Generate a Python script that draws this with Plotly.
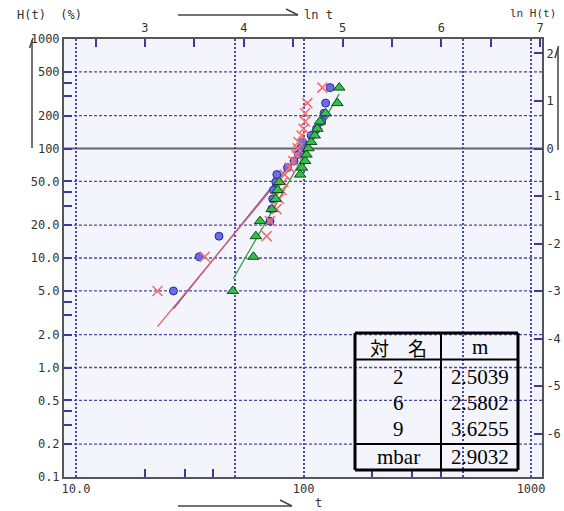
import math
import plotly.graph_objects as go

# ---------------- data ----------------
# cumulative hazard H(t) in % for ranks 1..20 (complete data, n=20)
H_PCT = [5.000, 10.263, 15.819, 21.701, 27.951, 34.618, 41.761, 49.453, 57.787, 66.878,
         76.878, 87.989, 100.489, 114.775, 131.442, 151.442, 176.442, 209.775, 259.775, 359.775]

T_RED = [22.8, 36.8, 68.8, 71.1, 76.0, 78.0, 80.0, 81.5, 82.6, 87.0,
         90.0, 93.0, 94.0, 95.0, 98.0, 100.0, 101.6, 101.6, 103.9, 121.0]
T_BLUE = [26.8, 34.8, 42.5, 71.2, 72.5, 73.2, 73.8, 75.5, 76.3, 85.0,
          90.8, 95.0, 97.0, 99.0, 108.0, 114.0, 120.0, 123.0, 125.0, 130.8]
T_GREEN = [48.9, 60.2, 61.7, 64.4, 72.4, 75.5, 76.9, 78.2, 96.6, 98.4,
           101.6, 103.0, 105.0, 108.0, 112.0, 115.0, 118.0, 125.0, 140.8, 143.5]

# fitted lines  H = 100 * (t/eta)^m
SAMPLE_NAMES = ["2", "6", "9"]
M_VALUES = [2.5039, 2.5802, 3.6255]
M_BAR = 2.9032
ETA_VALUES = [101.7, 99.0, 104.5]
LINE_T_START = [22.8, 26.8, 49.1]
LINE_T_END = [121.0, 130.8, 143.5]

Y_TICKS = [0.1, 0.2, 0.5, 1, 2, 5, 10, 20, 50, 100, 200, 500, 1000]
Y_TICKTEXT = ["0.1", "0.2", "0.5", "1.0", "2.0", "5.0", "10.0", "20.0", "50.0", "100", "200", "500", "1000"]
Y_GRID = [0.2, 0.5, 1, 2, 5, 10, 20, 50, 200, 500]
Y_REF = 100
Y_MINOR = [0.3, 0.4, 3, 4, 30, 40, 300, 400]
X_GRID = [10, 50, 100, 500, 1000]
X_TICKTEXT = ["10.0", "", "100", "", "1000"]
X_MINOR = [20, 30, 40, 200, 300, 400]
LNT_TICKS = [3, 4, 5, 6, 7]
LNT_MINOR = [2.5, 3.5, 4.5, 5.5, 6.5]
LNH_TICKS = [-6, -5, -4, -3, -2, -1, 0, 1, 2]

# ---------------- layout geometry ----------------
W, H = 564, 511
ML, MR, MT, MB = 64, 22, 39, 34
PW, PH = W - ML - MR, H - MT - MB
XLOG = [0.947, 3.048]
YLOG = [-1, 3]

def px(x):
    return (x - ML) / PW

def py(y):
    return (H - MB - y) / PH

NAVY = "#3a3a9a"
GRID = "#4848a8"
AXC = "#555555"
TICKFONT = dict(family="DejaVu Sans Mono", size=12, color="#333333")

fig = go.Figure()

# fitted lines
line_colors = ["#e06060", "#4a4ab0", "#3aa040"]
line_widths = [1.3, 1.1, 1.3]
for k in [1, 0, 2]:
    n = 40
    ts = [LINE_T_START[k] * (LINE_T_END[k] / LINE_T_START[k]) ** (i / (n - 1)) for i in range(n)]
    hs = [100 * (t / ETA_VALUES[k]) ** M_VALUES[k] for t in ts]
    fig.add_trace(go.Scatter(x=ts, y=hs, mode="lines",
                             line=dict(color=line_colors[k], width=line_widths[k]),
                             showlegend=False, hoverinfo="skip"))

# markers
fig.add_trace(go.Scatter(x=T_BLUE, y=H_PCT, mode="markers", showlegend=False,
                         marker=dict(symbol="circle", size=8, color="#6c6cea",
                                     line=dict(color="#2a2aa0", width=1))))
fig.add_trace(go.Scatter(x=T_RED, y=H_PCT, mode="markers", showlegend=False,
                         marker=dict(symbol="x-thin", size=10,
                                     line=dict(color="#f07070", width=1.6))))
fig.add_trace(go.Scatter(x=T_GREEN, y=H_PCT, mode="markers", showlegend=False,
                         marker=dict(symbol="triangle-up", size=10, color="#2fc050",
                                     line=dict(color="#124a12", width=1))))

# dummy trace to activate secondary axes
fig.add_trace(go.Scatter(x=[5], y=[0], xaxis="x2", yaxis="y2", mode="markers",
                         marker=dict(opacity=0), showlegend=False, hoverinfo="skip"))

fig.update_layout(
    width=W, height=H,
    margin=dict(l=ML, r=MR, t=MT, b=MB, pad=0, autoexpand=False),
    paper_bgcolor="white",
    plot_bgcolor="#f4f4fc",
    showlegend=False,
    xaxis=dict(type="log", range=XLOG, tickmode="array", tickvals=X_GRID, ticktext=X_TICKTEXT,
               ticks="", showgrid=True, gridcolor=GRID, griddash="2px,2px", gridwidth=1.5,
               showline=True, linecolor=AXC, linewidth=2, zeroline=False, automargin=False,
               tickfont=TICKFONT,
               minor=dict(tickmode="array", tickvals=X_MINOR, ticks="inside", ticklen=8,
                          tickcolor=NAVY, tickwidth=2, showgrid=False)),
    yaxis=dict(type="log", range=YLOG, tickmode="array", tickvals=Y_TICKS, ticktext=Y_TICKTEXT,
               ticks="inside", ticklen=8, tickcolor=NAVY, tickwidth=2,
               showgrid=False,
               showline=True, linecolor=AXC, linewidth=2, zeroline=False, automargin=False,
               tickfont=TICKFONT,
               minor=dict(tickmode="array", tickvals=Y_MINOR, ticks="inside", ticklen=8,
                          tickcolor=NAVY, tickwidth=2, showgrid=False)),
    xaxis2=dict(overlaying="x", side="top", anchor="y",
                range=[XLOG[0] * math.log(10), XLOG[1] * math.log(10)],
                tickmode="array", tickvals=LNT_TICKS, ticktext=[str(v) for v in LNT_TICKS],
                ticks="inside", ticklen=8, tickcolor=NAVY, tickwidth=2, automargin=False,
                showgrid=False, zeroline=False, showline=True, linecolor=AXC, linewidth=2,
                tickfont=TICKFONT,
                minor=dict(tickmode="array", tickvals=LNT_MINOR, ticks="inside", ticklen=8,
                           tickcolor=NAVY, tickwidth=2, showgrid=False)),
    yaxis2=dict(overlaying="y", side="right", anchor="x",
                range=[math.log(10 ** YLOG[0] / 100), math.log(10 ** YLOG[1] / 100)],
                tickmode="array", tickvals=LNH_TICKS, ticktext=[str(v) for v in LNH_TICKS],
                ticks="inside", ticklen=8, tickcolor=NAVY, tickwidth=2, automargin=False,
                showgrid=False, zeroline=False, showline=True, linecolor=AXC, linewidth=2,
                tickfont=TICKFONT),
)

shapes = []
# horizontal dashed grid lines
for gy in Y_GRID:
    shapes.append(dict(type="line", xref="paper", yref="y", x0=0, x1=1, y0=gy, y1=gy,
                       line=dict(color=GRID, width=1.3, dash="3px,2px"), layer="below"))
# solid reference line at 100%
shapes.append(dict(type="line", xref="paper", yref="y", x0=0, x1=1, y0=Y_REF, y1=Y_REF,
                   line=dict(color="#666666", width=2), layer="below"))

def seg(x0, y0, x1, y1, color="#444444", width=1.5):
    shapes.append(dict(type="line", xref="paper", yref="paper",
                       x0=px(x0), y0=py(y0), x1=px(x1), y1=py(y1),
                       line=dict(color=color, width=width)))

# top arrow (ln t)
seg(178, 15, 298, 15)
seg(286, 9, 298, 15)
# bottom arrow (t)
seg(178, 506, 292, 506)
seg(280, 500, 292, 506)
# left vertical arrow (H(t))
seg(32, 40, 32, 148)
seg(29.5, 48, 33, 38)
# right vertical arrow (ln H(t))
seg(558, 48, 558, 150)
seg(555, 58, 558.5, 46)

# table
TL, TR, TT, TB = 355, 518, 333, 470
TC = 441
R1, R4 = 359.5, 444
seg(TL, TT, TR, TT, "black", 3)
seg(TL, TB, TR, TB, "black", 3)
seg(TL, TT, TL, TB, "black", 3)
seg(TR, TT, TR, TB, "black", 3)
seg(TC, TT, TC, TB, "black", 2)
seg(TL, R1, TR, R1, "black", 2)
seg(TL, R4, TR, R4, "black", 2)

fig.update_layout(shapes=shapes)

ann = []

def txt(x, y, s, size=12, family="DejaVu Sans Mono", color="#333333", xanchor="center"):
    ann.append(dict(x=px(x), y=py(y), xref="paper", yref="paper", text=s, showarrow=False,
                    xanchor=xanchor, yanchor="middle",
                    font=dict(family=family, size=size, color=color)))

txt(15, 15, "H(t)  (%)", xanchor="left")
txt(302, 15, "ln t", xanchor="left")
txt(508, 13, "ln H(t)", size=11, xanchor="left")
txt(318, 503, "t")

SERIF = "Liberation Serif"
txt(398, 347, "対　名", size=19, family="Noto Sans CJK JP", color="black")
txt(479.5, 347, "m", size=21, family=SERIF, color="black")
rows_y = [377, 403, 429]
for name, m, yy in zip(SAMPLE_NAMES, M_VALUES, rows_y):
    txt(398, yy, name, size=21, family=SERIF, color="black")
    txt(479.5, yy, f"{m:.4f}", size=21, family=SERIF, color="black")
txt(398, 457, "mbar", size=21, family=SERIF, color="black")
txt(479.5, 457, f"{M_BAR:.4f}", size=21, family=SERIF, color="black")

fig.update_layout(annotations=ann)

fig.write_html("out.html")
